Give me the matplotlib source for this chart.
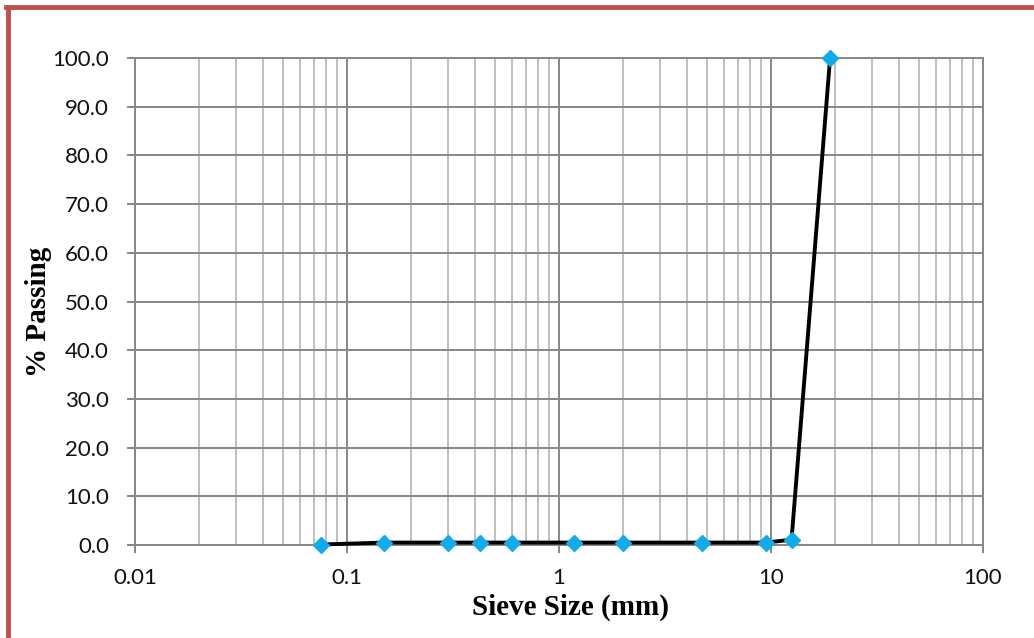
import matplotlib
matplotlib.use("Agg")
import matplotlib.pyplot as plt
from matplotlib.ticker import FixedLocator, LogLocator, NullFormatter
from matplotlib.lines import Line2D

# Sieve analysis results
sieve_mm = [0.075, 0.15, 0.3, 0.425, 0.6, 1.18, 2.0, 4.75, 9.5, 12.5, 19.0]
passing_pct = [0.1, 0.5, 0.5, 0.5, 0.5, 0.5, 0.5, 0.5, 0.5, 1.1, 100.0]
x_ticks = [0.01, 0.1, 1, 10, 100]
x_tick_labels = ["0.01", "0.1", "1", "10", "100"]
y_ticks = [0, 10, 20, 30, 40, 50, 60, 70, 80, 90, 100]

W, H = 1034, 638
fig = plt.figure(figsize=(W / 100, H / 100), dpi=100)
ax = fig.add_axes([135 / W, 1 - 545 / H, (983 - 135) / W, (545 - 58) / H])

ax.set_xscale("log")
ax.set_xlim(0.01, 100)
ax.set_ylim(0, 100)

ax.xaxis.set_major_locator(FixedLocator(x_ticks))
ax.set_xticklabels(x_tick_labels)
ax.xaxis.set_minor_locator(LogLocator(base=10, subs=range(2, 10)))
ax.xaxis.set_minor_formatter(NullFormatter())
ax.set_yticks(y_ticks)
ax.set_yticklabels([f"{v:.1f}" for v in y_ticks])

ax.grid(True, which="major", color="#878787", linewidth=1.4)
ax.grid(True, which="minor", axis="x", color="#bfbfbf", linewidth=1.4)
ax.set_axisbelow(True)
for s in ax.spines.values():
    s.set_color("#878787")
    s.set_linewidth(1.4)

ax.tick_params(axis="both", which="major", length=5.8, width=1.4, color="#878787")
ax.tick_params(axis="y", which="major", pad=13)
ax.tick_params(axis="x", which="major", pad=11)
ax.tick_params(axis="x", which="minor", length=0)
for lbl in ax.get_xticklabels() + ax.get_yticklabels():
    lbl.set_fontfamily(["Lato", "DejaVu Sans"])
    lbl.set_fontsize(16)
    lbl.set_color("#111111")

ax.plot(sieve_mm, passing_pct, color="black", linewidth=2.8, zorder=3,
        marker="D", markersize=8, markerfacecolor="#12aae8",
        markeredgecolor="#12aae8", clip_on=False)

ax.set_xlabel("Sieve Size (mm)", fontfamily="Liberation Serif", fontweight="bold",
              fontsize=21)
ax.xaxis.set_label_coords((571 - 135) / 848, (545 - 594) / 487)
ax.set_ylabel("% Passing", fontfamily="Liberation Serif", fontweight="bold",
              fontsize=21)
ax.yaxis.set_label_coords((52 - 135) / 848, (545 - 312) / 487)

# Frame lines along the top and left of the figure
fig.add_artist(Line2D([7.5 / W, 7.5 / W], [0, 1 - 6.5 / H], transform=fig.transFigure,
                      color="#c0504d", linewidth=3.5))
fig.add_artist(Line2D([6 / W, 1], [1 - 6.5 / H, 1 - 6.5 / H], transform=fig.transFigure,
                      color="#c0504d", linewidth=3.5))

fig.savefig("out.png", dpi=100)
